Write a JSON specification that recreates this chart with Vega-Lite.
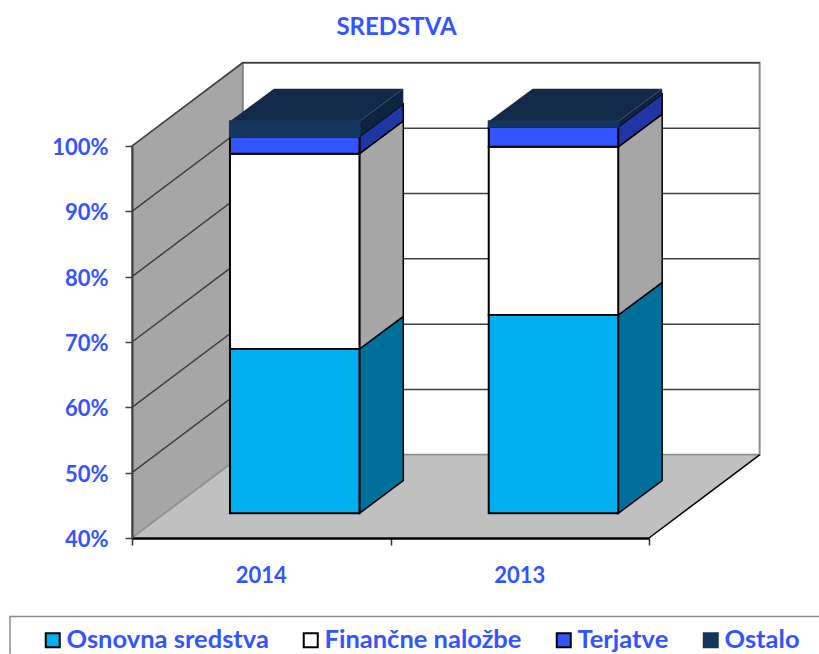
{
"$schema":"https://vega.github.io/schema/vega-lite/v6.json",
"width":517,"height":392,
"autosize":{"type":"none"},
"padding":{"left":132,"top":146,"right":170,"bottom":116},
"background":"white",
"title":{"text":"SREDSTVA","font":"Lato","fontSize":24,"fontWeight":"bold","color":"#3355FF","anchor":"middle","dx":6,"offset":20},
"config":{"view":{"stroke":null},"font":"Lato"},
"datasets":{
"bars":[
{"year":"2014","series":"Osnovna sredstva","x0":0.379,"x1":0.880,"lo":40,"hi":65.15},
{"year":"2014","series":"Finančne naložbe","x0":0.379,"x1":0.880,"lo":65.15,"hi":95.05},
{"year":"2014","series":"Terjatve","x0":0.379,"x1":0.880,"lo":95.05,"hi":97.65},
{"year":"2014","series":"Ostalo","x0":0.379,"x1":0.880,"lo":97.65,"hi":100},
{"year":"2013","series":"Osnovna sredstva","x0":1.380,"x1":1.881,"lo":40,"hi":70.35},
{"year":"2013","series":"Finančne naložbe","x0":1.380,"x1":1.881,"lo":70.35,"hi":96.1},
{"year":"2013","series":"Terjatve","x0":1.380,"x1":1.881,"lo":96.1,"hi":99.15},
{"year":"2013","series":"Ostalo","x0":1.380,"x1":1.881,"lo":99.15,"hi":100}
],
"sides":[
{"year":"2014","face":"Osnovna bok","x":0.880,"lo":40,"hi":65.15},{"year":"2014","face":"Osnovna bok","x":1.0495,"lo":45,"hi":70.15},
{"year":"2014","face":"Finančne bok","x":0.880,"lo":65.15,"hi":95.05},{"year":"2014","face":"Finančne bok","x":1.0495,"lo":70.15,"hi":100.05},
{"year":"2014","face":"Terjatve bok","x":0.880,"lo":95.05,"hi":97.65},{"year":"2014","face":"Terjatve bok","x":1.0495,"lo":100.05,"hi":102.65},
{"year":"2013","face":"Osnovna bok","x":1.881,"lo":40,"hi":70.35},{"year":"2013","face":"Osnovna bok","x":2.051,"lo":45,"hi":75.35},
{"year":"2013","face":"Finančne bok","x":1.881,"lo":70.35,"hi":96.1},{"year":"2013","face":"Finančne bok","x":2.051,"lo":75.35,"hi":101.1},
{"year":"2013","face":"Terjatve bok","x":1.881,"lo":96.1,"hi":99.15},{"year":"2013","face":"Terjatve bok","x":2.051,"lo":101.1,"hi":104.15}
],
"tops":[
{"year":"2014","face":"Ostalo bok","x":0.880,"lo":97.65,"hi":100},{"year":"2014","face":"Ostalo bok","x":1.0495,"lo":102.65,"hi":105},
{"year":"2013","face":"Ostalo bok","x":1.881,"lo":99.15,"hi":100},{"year":"2013","face":"Ostalo bok","x":2.051,"lo":104.15,"hi":105},
{"year":"2014","face":"Ostalo vrh","x":0.379,"lo":100,"hi":100},{"year":"2014","face":"Ostalo vrh","x":0.549,"lo":100,"hi":105},{"year":"2014","face":"Ostalo vrh","x":0.880,"lo":100,"hi":105},{"year":"2014","face":"Ostalo vrh","x":1.0495,"lo":105,"hi":105},
{"year":"2013","face":"Ostalo vrh","x":1.380,"lo":100,"hi":100},{"year":"2013","face":"Ostalo vrh","x":1.550,"lo":100,"hi":105},{"year":"2013","face":"Ostalo vrh","x":1.881,"lo":100,"hi":105},{"year":"2013","face":"Ostalo vrh","x":2.051,"lo":105,"hi":105}
],
"grid":[
{"v":"50","x":0,"y":50},{"v":"50","x":0.428,"y":62.73},{"v":"50","x":2.428,"y":62.73},
{"v":"60","x":0,"y":60},{"v":"60","x":0.428,"y":72.73},{"v":"60","x":2.428,"y":72.73},
{"v":"70","x":0,"y":70},{"v":"70","x":0.428,"y":82.73},{"v":"70","x":2.428,"y":82.73},
{"v":"80","x":0,"y":80},{"v":"80","x":0.428,"y":92.73},{"v":"80","x":2.428,"y":92.73},
{"v":"90","x":0,"y":90},{"v":"90","x":0.428,"y":102.73},{"v":"90","x":2.428,"y":102.73},
{"v":"100","x":0,"y":100},{"v":"100","x":0.428,"y":112.73},{"v":"100","x":2.428,"y":112.73}
],
"labels":[{"year":"2014","x":0.5},{"year":"2013","x":1.5}]
},
"layer":[
{"data":{"values":[{"x0":0.428,"x1":2.428,"lo":52.73,"hi":112.73}]},
 "mark":{"type":"rect","fill":"white","stroke":"#8c8c8c","strokeWidth":2},
 "encoding":{
  "x":{"field":"x0","type":"quantitative","scale":{"domain":[0,2],"nice":false,"zero":false},
   "axis":{"values":[0,1,2],"labels":false,"title":null,"grid":false,"domainColor":"#000000","domainWidth":2.5,"tickColor":"#303030","tickSize":7,"tickWidth":1.5,"zindex":1}},
  "x2":{"field":"x1"},
  "y":{"field":"lo","type":"quantitative","scale":{"domain":[40,100],"nice":false,"zero":false},
   "axis":{"values":[40,50,60,70,80,90,100],"title":null,"grid":false,"labelExpr":"datum.value + '%'","labelFont":"Lato","labelFontWeight":"bold","labelFontSize":22,"labelColor":"#3355FF","labelPadding":17,"labelOffset":1.5,"domainColor":"#404040","domainWidth":2,"tickColor":"#404040","tickSize":7,"tickWidth":1.5,"zindex":1}},
  "y2":{"field":"hi"}}},
{"data":{"values":[{"x":0,"lo":40,"hi":100},{"x":0.428,"lo":52.73,"hi":112.73}]},
 "mark":{"type":"area","fill":"#A6A6A6","stroke":"#808080","strokeWidth":1.5},
 "encoding":{"x":{"field":"x","type":"quantitative"},"y":{"field":"lo","type":"quantitative","stack":null},"y2":{"field":"hi"}}},
{"data":{"values":[{"x":0,"lo":40,"hi":40},{"x":0.428,"lo":40,"hi":52.73},{"x":2,"lo":40,"hi":52.73},{"x":2.428,"lo":52.73,"hi":52.73}]},
 "mark":{"type":"area","fill":"#C0C0C0","stroke":null},
 "encoding":{"x":{"field":"x","type":"quantitative"},"y":{"field":"lo","type":"quantitative","stack":null},"y2":{"field":"hi"}}},
{"data":{"values":[{"x":0,"y":40},{"x":0.428,"y":52.73},{"x":2.428,"y":52.73}]},
 "mark":{"type":"line","color":"#909090","strokeWidth":1.5},
 "encoding":{"x":{"field":"x","type":"quantitative"},"y":{"field":"y","type":"quantitative"}}},
{"data":{"name":"grid"},
 "mark":{"type":"line","color":"#404040","strokeWidth":1.5},
 "encoding":{"x":{"field":"x","type":"quantitative"},"y":{"field":"y","type":"quantitative"},"detail":{"field":"v"}}},
{"data":{"values":[{"x":2,"y":40},{"x":2.428,"y":52.73}]},
 "mark":{"type":"line","color":"#000000","strokeWidth":1.5},
 "encoding":{"x":{"field":"x","type":"quantitative"},"y":{"field":"y","type":"quantitative"}}},
{"data":{"name":"sides"},
 "mark":{"type":"area","stroke":"#000000","strokeWidth":1.5,"yOffset":-24.7,"y2Offset":-24.7},
 "encoding":{"x":{"field":"x","type":"quantitative"},"y":{"field":"lo","type":"quantitative","stack":null},"y2":{"field":"hi"},"detail":{"field":"year"},
  "color":{"field":"face","type":"nominal","legend":null,"scale":{"domain":["Osnovna bok","Finančne bok","Terjatve bok","Ostalo bok","Ostalo vrh"],"range":["#006F9A","#A6A6A6","#2036A5","#0F2440","#122A47"]}}}},
{"data":{"name":"tops"},
 "mark":{"type":"area","yOffset":-24.7,"y2Offset":-24.7},
 "encoding":{"x":{"field":"x","type":"quantitative"},"y":{"field":"lo","type":"quantitative","stack":null},"y2":{"field":"hi"},"detail":{"field":"year"},
  "color":{"field":"face","type":"nominal","legend":null}}},
{"data":{"name":"bars"},
 "mark":{"type":"rect","strokeWidth":2,"yOffset":-24.7,"y2Offset":-24.7},
 "encoding":{"x":{"field":"x0","type":"quantitative"},"x2":{"field":"x1"},"y":{"field":"lo","type":"quantitative"},"y2":{"field":"hi"},
  "fill":{"field":"series","type":"nominal","sort":null,"scale":{"domain":["Osnovna sredstva","Finančne naložbe","Terjatve","Ostalo"],"range":["#00B0F0","#FFFFFF","#3355FF","#17365D"]},
   "legend":{"title":null,"orient":"none","legendX":-92,"legendY":481,"columns":4,"direction":"horizontal","symbolType":"square","symbolSize":196,"symbolStrokeWidth":2,"labelFont":"Lato","labelFontWeight":"bold","labelFontSize":25.5,"labelColor":"#3355FF","labelOffset":1,"columnPadding":29,"labelLimit":300,"symbolOpacity":1}},
  "stroke":{"field":"series","type":"nominal","sort":null,"scale":{"domain":["Osnovna sredstva","Finančne naložbe","Terjatve","Ostalo"],"range":["#000000","#000000","#000000","#17365D"]}}}},
{"data":{"name":"labels"},
 "mark":{"type":"text","font":"Lato","fontWeight":"bold","fontSize":22,"color":"#3355FF","dy":38},
 "encoding":{"x":{"field":"x","type":"quantitative"},"y":{"datum":40},"text":{"field":"year"}}},
{"data":{"values":[{"x":-0.472,"y":22.3,"o":1},{"x":-0.472,"y":27.98,"o":2},{"x":2.658,"y":27.98,"o":3}]},
 "mark":{"type":"line","color":"#8c8c8c","strokeWidth":1.5},
 "encoding":{"x":{"field":"x","type":"quantitative"},"y":{"field":"y","type":"quantitative"},"order":{"field":"o"}}}
]
}
